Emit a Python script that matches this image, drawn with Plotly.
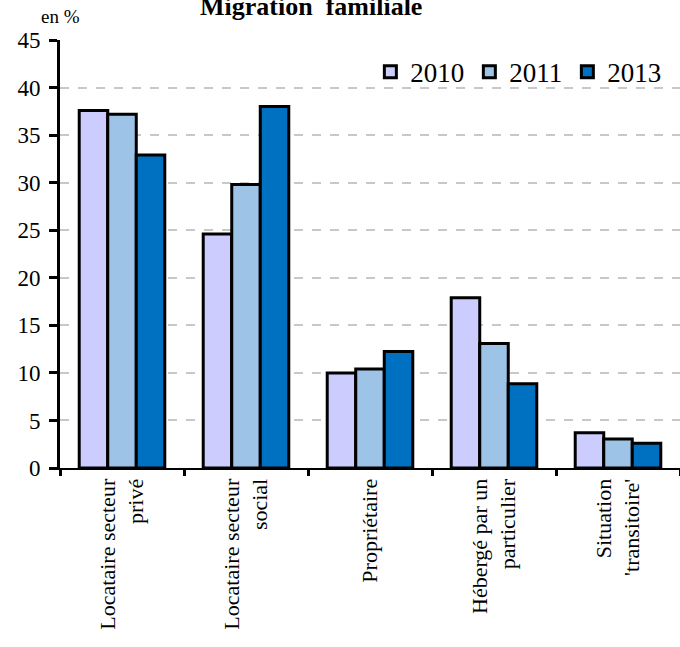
import plotly.graph_objects as go

categories = [
    "Locataire secteur<br>privé",
    "Locataire secteur<br>social",
    "Propriétaire",
    "Hébergé par un<br>particulier",
    "Situation<br>'transitoire'",
]
years = ["2010", "2011", "2013"]
values_2010 = [37.6, 24.6, 10.0, 17.9, 3.7]
values_2011 = [37.2, 29.8, 10.4, 13.1, 3.05]
values_2013 = [32.9, 38.0, 12.25, 8.85, 2.6]
colors = ["#CCCCFF", "#9DC3E6", "#0070C0"]

SERIF = "Liberation Serif"

fig = go.Figure()
for name, vals, col in zip(years, [values_2010, values_2011, values_2013], colors):
    fig.add_trace(go.Bar(
        x=categories, y=vals, name=name,
        marker=dict(color=col, line=dict(color="black", width=3)),
    ))

fig.update_layout(
    width=680, height=647,
    margin=dict(l=60, r=0, t=40, b=179),
    paper_bgcolor="white", plot_bgcolor="white",
    font=dict(family=SERIF, size=17, color="black"),
    barmode="group", bargap=0.31, bargroupgap=0,
    showlegend=True,
    legend=dict(orientation="h", x=0.978, xanchor="right", y=0.925, yanchor="middle",
                font=dict(size=27, family=SERIF), bgcolor="rgba(0,0,0,0)",
                itemwidth=30, tracegroupgap=0),
    annotations=[
        dict(text="<b>Migration  familiale</b>", xref="paper", yref="paper",
             x=0.4056, y=1.079, xanchor="center", yanchor="middle", showarrow=False,
             font=dict(size=26, family=SERIF)),
        dict(text="en %", xref="paper", yref="paper", x=0.0, y=1.054,
             xanchor="center", yanchor="middle", showarrow=False,
             font=dict(size=19, family=SERIF)),
    ],
)
fig.update_yaxes(
    range=[0, 45], dtick=5, showline=True, linecolor="black", linewidth=3,
    ticks="outside", ticklen=8, tickwidth=3, tickcolor="black",
    showgrid=True, gridcolor="#C8C8C8", gridwidth=2, griddash="dash",
    zeroline=False, tickfont=dict(size=23, family=SERIF), automargin=False,
    ticklabelstandoff=4,
)
fig.update_xaxes(
    showline=True, linecolor="black", linewidth=2,
    ticks="outside", tickson="boundaries", ticklen=6, tickwidth=3, tickcolor="black",
    tickangle=-90, tickfont=dict(size=22, family=SERIF), automargin=False,
)

# the page body has a default 8px margin; drop it so the chart sits at the corner
fig.write_html("out.html", config={"displayModeBar": False},
               post_script="document.body.style.margin='0';")
